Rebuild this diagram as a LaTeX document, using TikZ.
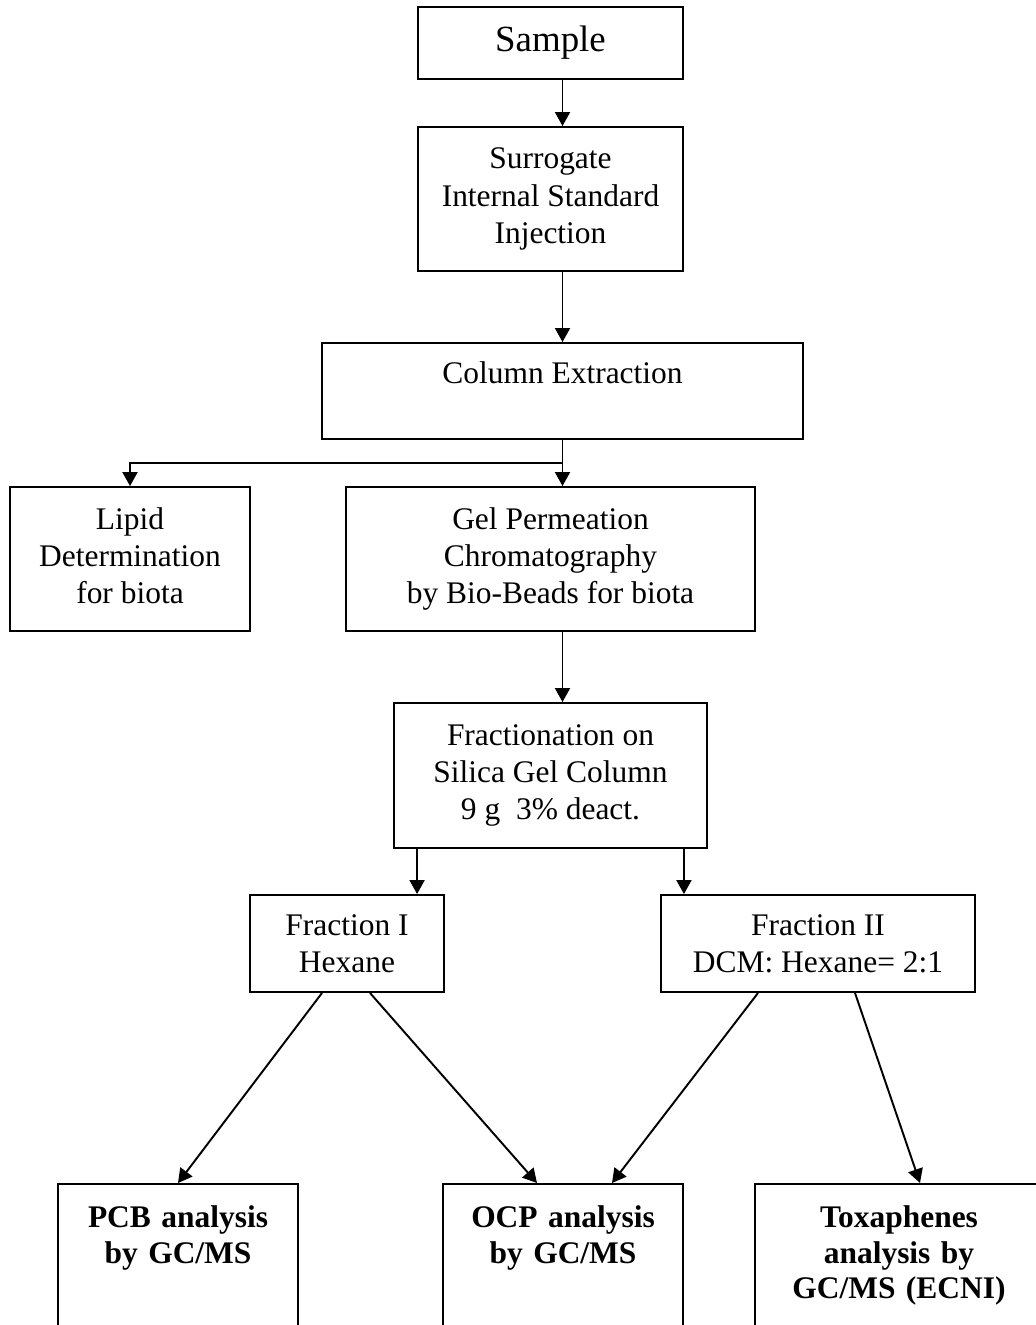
\documentclass[tikz,border=0pt]{standalone}
\usepackage{fontspec}
\setmainfont{Liberation Serif}
\usetikzlibrary{arrows.meta}

\begin{document}
\begin{tikzpicture}[x=0.02cm,y=-0.02cm,->,>={Triangle[length=0.28cm,width=0.3cm]},
        line width=1.1pt,
        box/.style={draw,rectangle,align=center,inner sep=0pt,
          font=\fontsize{17.9}{21.1}\selectfont},
        result/.style={box,anchor=north,minimum width=4.8cm,text width=4.6cm,inner ysep=0.44cm,
          text height=0.44cm,text depth=3cm,
          font=\fontsize{17.9}{20}\selectfont\bfseries}]

  \useasboundingbox (0,0) rectangle (1035,1325);

  \node[box,minimum width=5.3cm,minimum height=1.44cm,font=\fontsize{21}{25}\selectfont] (Sample) at (550.5,43) {Sample};
  \node[box,minimum width=5.3cm,minimum height=2.88cm] (Surrogate) at (550.5,199) {Surrogate\\Internal Standard\\Injection};
  \node[box,minimum width=9.62cm,inner ysep=0.37cm,text height=0.43cm,text depth=0.75cm] (ColExt) at (562.5,391) {Column Extraction};

  \node[box,minimum width=4.8cm,minimum height=2.88cm,text depth=0.15cm] (Lipid) at (130,559) {Lipid\\Determination\\for biota};
  \node[box,minimum width=8.18cm,minimum height=2.88cm] (Gel) at (550.5,559) {Gel Permeation\\Chromatography\\by Bio-Beads for biota};
  \node[box,minimum width=6.26cm,minimum height=2.9cm] (Fract) at (550.5,775.5) {Fractionation on\\Silica Gel Column\\9 g~~3\% deact.};

  \node[box,minimum width=3.88cm,minimum height=1.94cm] (Frac1) at (347,943.5) {Fraction I\\Hexane};
  \node[box,minimum width=6.28cm,minimum height=1.94cm] (Frac2) at (818,943.5) {Fraction II\\DCM: Hexane= 2:1};

  \node[result] (PCB) at (178,1183) {PCB analysis\\by GC/MS};
  \node[result] (OCP) at (563,1183) {OCP analysis\\by GC/MS};
  \node[result,minimum width=5.76cm,text width=5.5cm] (Tox) at (899,1183) {Toxaphenes\\analysis by\\GC/MS (ECNI)};

  \coordinate (Split) at (562.5,463);
  \coordinate (Fr1) at ([xshift=0.48cm]Fract.south west);
  \coordinate (Fr2) at ([xshift=-0.48cm]Fract.south east);

  \draw[-] (ColExt.south) -- (Split);
  \draw (Split) -| (Lipid.north);

  \path (Sample.south -| ColExt) edge (Surrogate.north -| ColExt)
        (Surrogate.south -| ColExt) edge (ColExt.north)
        (Split) edge (Gel.north -| Split)
        (Gel.south -| Split) edge (Fract.north -| Split)

        (Fr1) edge (Fr1 |- Frac1.north)
        (Fr2) edge (Fr2 |- Frac2.north)

        ([xshift=-0.5cm]Frac1.south) edge (PCB.north)
        ([xshift=0.46cm]Frac1.south) edge ([xshift=-0.52cm]OCP.north)
        ([xshift=-1.2cm]Frac2.south) edge ([xshift=0.98cm]OCP.north)
        ([xshift=0.74cm]Frac2.south) edge ([xshift=0.42cm]Tox.north);
\end{tikzpicture}
\end{document}
